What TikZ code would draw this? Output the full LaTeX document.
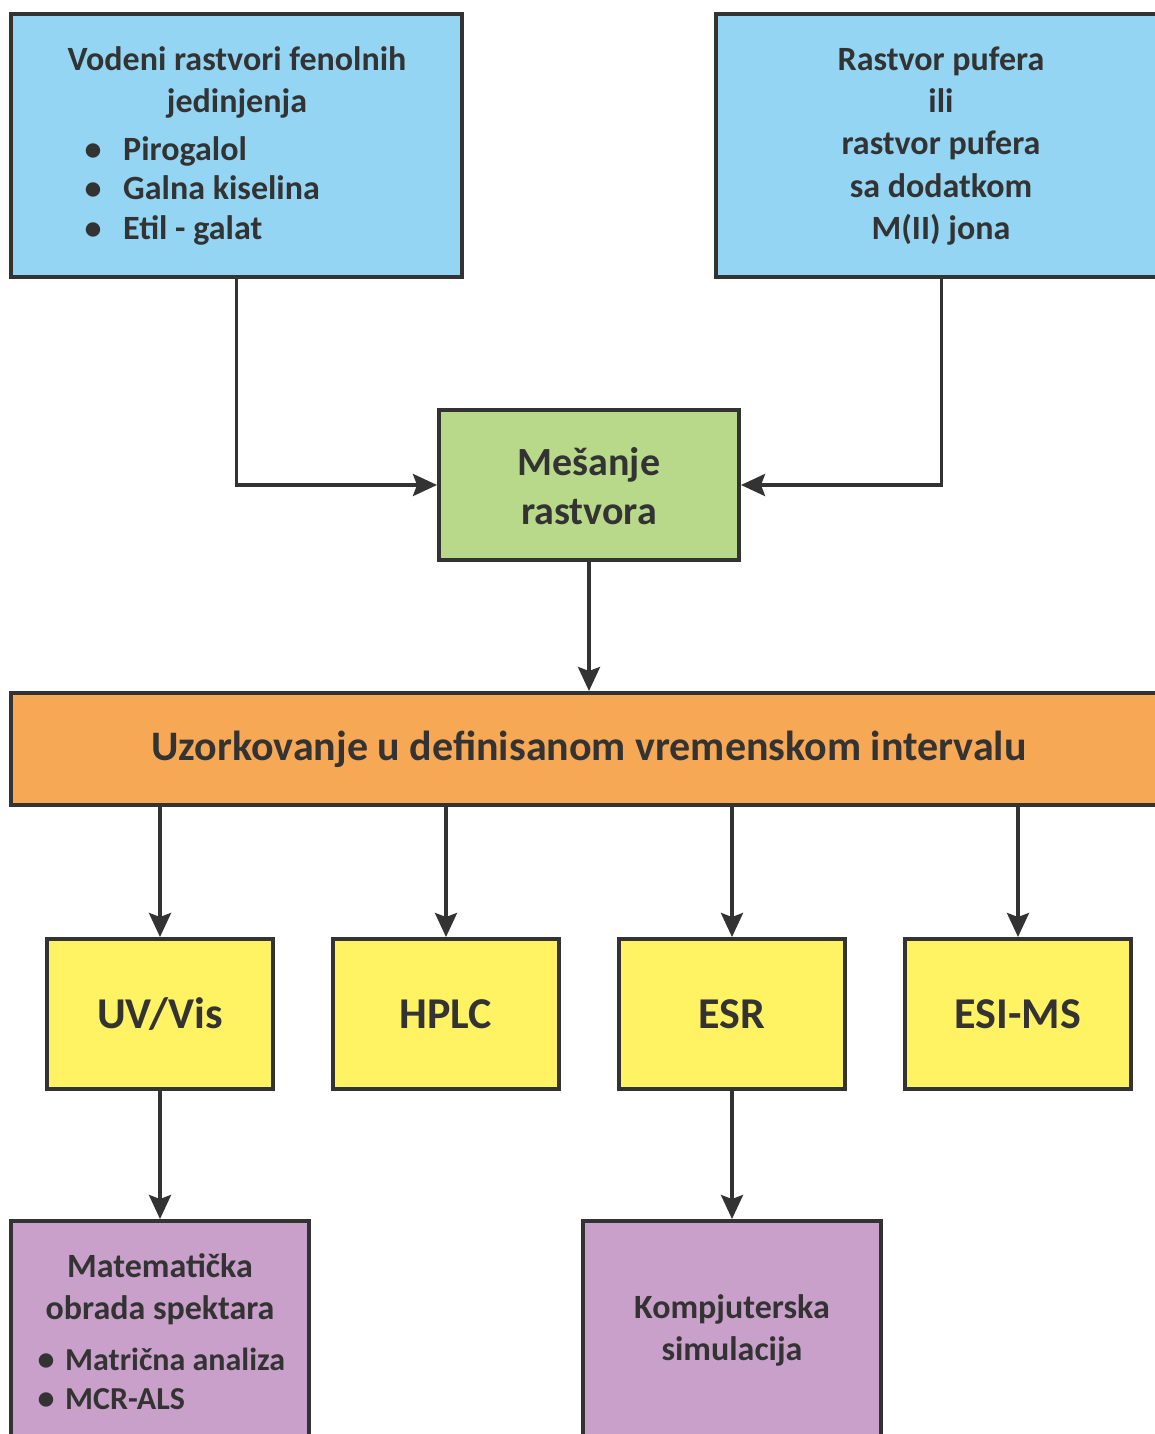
\documentclass[tikz,border=0pt]{standalone}
\usepackage{fontspec}
\setmainfont{Carlito}
\usetikzlibrary{arrows.meta}
\definecolor{linec}{HTML}{333333}
\definecolor{textc}{HTML}{333333}
\definecolor{bluef}{HTML}{93D5F3}
\definecolor{greenf}{HTML}{B8D98A}
\definecolor{orangef}{HTML}{F7A855}
\definecolor{yellowf}{HTML}{FFF263}
\definecolor{purplef}{HTML}{C8A0CA}
\tikzset{
  box/.style={draw=linec, line width=4pt, rectangle, inner sep=0pt},
  conn/.style={draw=linec, line width=3.5pt, -{Stealth[length=24pt, width=22pt, inset=4pt]}},
  txt/.style={text=textc, inner sep=0pt, anchor=base, font=\bfseries\fontsize{34}{40}\selectfont},
  mixtxt/.style={txt, font=\bfseries\fontsize{40}{46}\selectfont},
  bigtxt/.style={txt, font=\bfseries\fontsize{42}{48}\selectfont},
  methtxt/.style={txt, font=\bfseries\fontsize{44}{50}\selectfont},
  ltxt/.style={txt, anchor=base west},
  stxt/.style={txt, anchor=base west, font=\bfseries\fontsize{32}{38}\selectfont},
}
\begin{document}
\begin{tikzpicture}[x=1pt,y=-1pt]
\useasboundingbox (0,0) rectangle (1155,1434);
\clip (0,0) rectangle (1155,1434);
\fill[white] (0,0) rectangle (1155,1434);

% boxes
\node[box, fill=bluef, minimum width=451pt, minimum height=263pt] (src1) at (236.5,145.5) {};
\node[box, fill=bluef, minimum width=451pt, minimum height=263pt] (src2) at (941.5,145.5) {};
\node[box, fill=greenf, minimum width=300pt, minimum height=150pt] (mix) at (589,485) {};
\node[box, fill=orangef, minimum width=1156pt, minimum height=112pt] (samp) at (589,749) {};
\node[box, fill=yellowf, minimum width=226pt, minimum height=150pt] (uv) at (160,1014) {};
\node[box, fill=yellowf, minimum width=226pt, minimum height=150pt] (hplc) at (446,1014) {};
\node[box, fill=yellowf, minimum width=226pt, minimum height=150pt] (esr) at (732,1014) {};
\node[box, fill=yellowf, minimum width=226pt, minimum height=150pt] (esims) at (1018,1014) {};
\node[box, fill=purplef, minimum width=298pt, minimum height=218pt] (mat) at (160,1330) {};
\node[box, fill=purplef, minimum width=298pt, minimum height=218pt] (sim) at (732,1330) {};

% texts: top-left
\node[txt] (t1a) at (237,71) {Vodeni rastvori fenolnih};
\node[txt] (t1b) at (237,113) {jedinjenja};
\node[txt] (b1) at (93,161) {•};
\node[txt] (b2) at (93,200) {•};
\node[txt] (b3) at (93,239) {•};
\node[ltxt] (t1c) at (123,161) {Pirogalol};
\node[ltxt] (t1d) at (123,200) {Galna kiselina};
\node[ltxt] (t1e) at (123,239) {Etil - galat};

% top-right
\node[txt] (t2a) at (941,71) {Rastvor pufera};
\node[txt] (t2b) at (941,113) {ili};
\node[txt] (t2c) at (941,155) {rastvor pufera};
\node[txt] (t2d) at (941,197) {sa dodatkom};
\node[txt] (t2e) at (941,239) {M(II) jona};

% mix
\node[mixtxt] (t3a) at (589,475) {Mešanje};
\node[mixtxt] (t3b) at (589,524) {rastvora};

% sampling
\node[bigtxt] (t4) at (589,760) {Uzorkovanje u definisanom vremenskom intervalu};

% methods
\node[methtxt] (t5a) at (160,1028) {UV/Vis};
\node[methtxt] (t5b) at (446,1028) {HPLC};
\node[methtxt] (t5c) at (732,1028) {ESR};
\node[methtxt] (t5d) at (1018,1028) {ESI-MS};

% purple left
\node[txt] (t6a) at (160,1277) {Matematička};
\node[txt] (t6b) at (160,1319) {obrada spektara};
\node[txt] (b4) at (46,1370) {•};
\node[txt] (b5) at (46,1409) {•};
\node[stxt] (t6c) at (65,1370) {Matrična analiza};
\node[stxt] (t6d) at (65,1409) {MCR-ALS};

% purple right
\node[txt] (t7a) at (732,1318) {Kompjuterska};
\node[txt] (t7b) at (732,1360) {simulacija};

% connectors
\draw[conn] (src1.south) |- (mix.west);
\draw[conn] (src2.south) |- (mix.east);
\draw[conn] (mix.south) -- (mix.south |- samp.north);
\draw[conn] (uv.north |- samp.south) -- (uv.north);
\draw[conn] (hplc.north |- samp.south) -- (hplc.north);
\draw[conn] (esr.north |- samp.south) -- (esr.north);
\draw[conn] (esims.north |- samp.south) -- (esims.north);
\draw[conn] (uv.south) -- (mat.north);
\draw[conn] (esr.south) -- (sim.north);
\end{tikzpicture}
\end{document}
